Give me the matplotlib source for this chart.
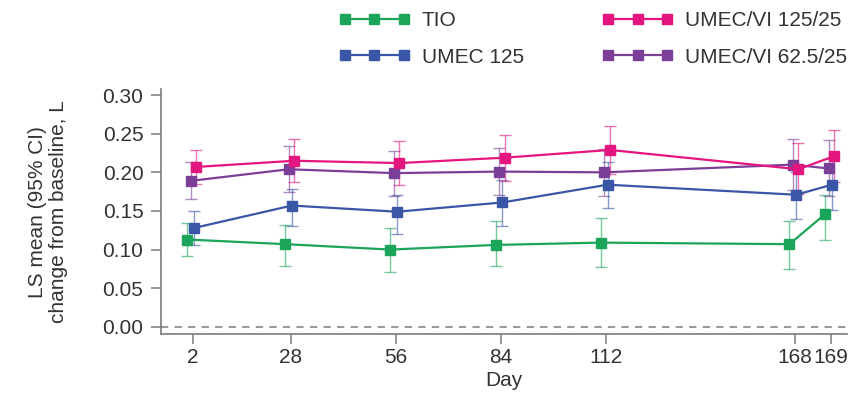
import matplotlib
matplotlib.use("Agg")
import matplotlib.pyplot as plt

plt.rcParams['font.family'] = ['Liberation Sans', 'DejaVu Sans']

# Данные: день, LS mean и 95% ДИ
days = [2, 28, 56, 84, 112, 168, 169]

tio = [0.113, 0.107, 0.100, 0.106, 0.109, 0.107, 0.146]
tio_lo = [0.092, 0.079, 0.071, 0.079, 0.078, 0.075, 0.112]
tio_hi = [0.134, 0.132, 0.128, 0.137, 0.141, 0.137, 0.171]

umec = [0.128, 0.157, 0.149, 0.161, 0.184, 0.171, 0.184]
umec_lo = [0.106, 0.130, 0.120, 0.130, 0.154, 0.139, 0.151]
umec_hi = [0.150, 0.178, 0.171, 0.190, 0.214, 0.200, 0.217]

uv125 = [0.207, 0.215, 0.212, 0.219, 0.229, 0.204, 0.221]
uv125_lo = [0.185, 0.187, 0.183, 0.189, 0.198, 0.172, 0.187]
uv125_hi = [0.229, 0.243, 0.241, 0.249, 0.260, 0.238, 0.255]

uv62 = [0.189, 0.204, 0.199, 0.201, 0.200, 0.210, 0.205]
uv62_lo = [0.165, 0.175, 0.170, 0.171, 0.170, 0.177, 0.169]
uv62_hi = [0.213, 0.234, 0.228, 0.231, 0.230, 0.243, 0.242]

labels = ['TIO', 'UMEC 125', 'UMEC/VI 125/25', 'UMEC/VI 62.5/25']

# Положение дней на оси (168/169 раздвинуты)
axis_pos = {2: 2, 28: 28, 56: 56, 84: 84, 112: 112, 168: 162.2, 169: 171.7}

series = [
    (tio, tio_lo, tio_hi, '#1aa55a', -1.5),
    (umec, umec_lo, umec_hi, '#3a56a6', 0.3),
    (uv125, uv125_lo, uv125_hi, '#e5157f', 0.9),
    (uv62, uv62_lo, uv62_hi, '#7c3f98', -0.55),
]

FS = 15

fig = plt.figure(figsize=(8.59, 4.05), dpi=100)
ax = fig.add_axes([0.188, 0.175, 0.798, 0.605])

gray = '#7a7a7a'
txt = '#333333'

ax.axhline(0, color='#9a9a9a', lw=1.5, ls=(0, (3.5, 3)), zorder=1)

handles = {}
draw_order = [0, 3, 1, 2]
for i in draw_order:
    vals, lo, hi, col, off = series[i]
    xs = [axis_pos[d] + off for d in days]
    yerr = [[v - l for v, l in zip(vals, lo)], [h - v for v, h in zip(vals, hi)]]
    ax.errorbar(xs, vals, yerr=yerr, fmt='none', ecolor=col, alpha=0.6,
                elinewidth=1, capsize=4, capthick=1, zorder=2)
    ln, = ax.plot(xs, vals, color=col, lw=1.6, marker='s', ms=7,
                  mec=col, mfc=col, zorder=3)
    handles[i] = ln

ax.set_xlim(-6.4, 176)
ax.set_ylim(-0.0095, 0.3078)
ax.set_xticks([axis_pos[d] for d in days])
ax.set_xticklabels([str(d) for d in days])
ax.set_yticks([0, 0.05, 0.10, 0.15, 0.20, 0.25, 0.30])
ax.set_yticklabels(['0.00', '0.05', '0.10', '0.15', '0.20', '0.25', '0.30'])

for s in ['top', 'right']:
    ax.spines[s].set_visible(False)
for s in ['left', 'bottom']:
    ax.spines[s].set_color(gray)
    ax.spines[s].set_linewidth(1.2)

ax.tick_params(axis='both', direction='out', length=7, width=1.1, color=gray,
               labelsize=FS, labelcolor=txt)
ax.tick_params(axis='y', pad=6)
ax.tick_params(axis='x', pad=3)

ax.set_xlabel('Day', fontsize=FS, color=txt, labelpad=3)
ax.set_ylabel('LS mean (95% CI)\nchange from baseline, L', fontsize=FS,
              color=txt, labelpad=25, linespacing=1.12)

fig.legend([handles[0], handles[1], handles[2], handles[3]], labels,
           ncol=2, loc='upper left', bbox_to_anchor=(0.385, 0.993),
           frameon=False, fontsize=FS, numpoints=3, handlelength=3.4,
           handletextpad=0.58, columnspacing=3.75, labelspacing=0.84,
           borderaxespad=0, labelcolor=txt)

fig.savefig('out.png', dpi=100)
